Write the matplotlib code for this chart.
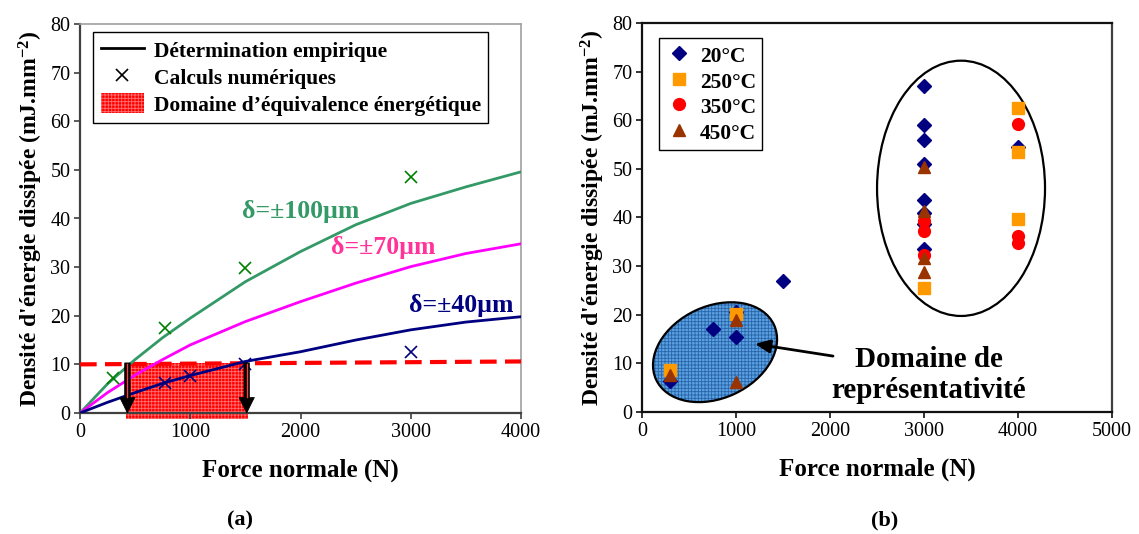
import matplotlib
matplotlib.use('Agg')
import matplotlib.pyplot as plt
import numpy as np
from matplotlib.patches import Ellipse, Rectangle, Patch
from matplotlib.lines import Line2D
import matplotlib.transforms as mtransforms

plt.rcParams['font.family'] = ['Liberation Serif', 'DejaVu Serif']
plt.rcParams['mathtext.default'] = 'regular'
plt.rcParams['hatch.linewidth'] = 0.6

# ---------------- data (a) ----------------
force_emp = [0, 250, 500, 750, 1000, 1500, 2000, 2500, 3000, 3500, 4000]
emp_100 = [0, 6.0, 11.0, 15.5, 19.5, 27.0, 33.2, 38.7, 43.1, 46.5, 49.6]
emp_70 = [0, 4.2, 7.8, 11.0, 14.0, 18.8, 22.9, 26.7, 30.1, 32.8, 34.8]
emp_40 = [0, 2.2, 4.2, 6.1, 7.7, 10.6, 12.6, 15.0, 17.1, 18.7, 19.8]
num_force_100 = [300, 770, 1500, 3000]
num_100 = [7.1, 17.4, 29.9, 48.5]
num_force_40 = [770, 1000, 1500, 3000]
num_40 = [6.1, 7.6, 10.0, 12.5]
seuil_force = [0, 4000]
seuil = [10.0, 10.6]
domaine_force = [420, 1520]
domaine_energie = 10.3
fleche_force = [430, 1512]

# ---------------- data (b) ----------------
f20 = [300, 750, 1000, 1000, 1500, 3000, 3000, 3000, 3000, 3000, 3000, 3000, 3000, 4000]
e20 = [6.3, 17.1, 15.4, 20.6, 27.0, 67.1, 59.0, 55.9, 51.1, 43.6, 40.9, 38.7, 33.5, 54.6]
f250 = [300, 1000, 3000, 4000, 4000, 4000]
e250 = [8.6, 20.2, 25.6, 62.6, 53.4, 39.7]
f350 = [3000, 3000, 3000, 4000, 4000, 4000]
e350 = [39.3, 37.3, 32.3, 59.2, 36.2, 34.7]
f450 = [300, 1000, 1000, 3000, 3000, 3000, 3000]
e450 = [7.6, 18.9, 6.1, 50.4, 41.3, 31.6, 28.7]

W, H = 1139, 534
fig = plt.figure(figsize=(W / 100, H / 100), dpi=100)
ax1 = fig.add_axes([80 / W, 1 - 413 / H, 441 / W, 389 / H])
ax2 = fig.add_axes([642 / W, 1 - 412 / H, 470 / W, 389 / H])

tick_fs = 14.5
lab_fs = 18
ylab_fs = 17
leg_fs = 15.5
ylabel_txt = "Densité d'énergie dissipée (mJ.mm$^{-2}$)"

# ---------------- panel (a) ----------------
ax1.set_xlim(0, 4000)
ax1.set_ylim(0, 80)
ax1.set_xticks(range(0, 4001, 1000))
ax1.set_yticks(range(0, 81, 10))

rect = Rectangle((domaine_force[0], -1.2), domaine_force[1] - domaine_force[0], domaine_energie + 1.2,
                 facecolor='#ff0000', edgecolor='#ff7070', hatch='+++++', lw=0, clip_on=False, zorder=1)
ax1.add_patch(rect)

ax1.plot(seuil_force, seuil, color='#ff0000', lw=3, dashes=(4, 2), zorder=3, clip_on=False)

ax1.plot(force_emp, emp_100, color='#339966', lw=2, zorder=4)
ax1.plot(force_emp, emp_70, color='#ff00ff', lw=2, zorder=4)
ax1.plot(force_emp, emp_40, color='#000080', lw=2, zorder=4)
ax1.plot(num_force_100, num_100, ls='none', marker='x', ms=9, mew=1.2, color='#008000', zorder=5)
ax1.plot(num_force_40, num_40, ls='none', marker='x', ms=9, mew=1.2, color='#000080', zorder=5)

for fx in fleche_force:
    ax1.arrow(fx, domaine_energie, 0, -domaine_energie, width=50, head_width=140, head_length=3.2,
              length_includes_head=True, fc='black', ec='black', lw=0.5, zorder=6, clip_on=False)
    ax1.plot([fx, fx], [domaine_energie - 0.2, 3.3], color='#ff4040', lw=1.0, zorder=7)

ax1.text(2000, 41.4, 'δ=±100µm', color='#339966', fontsize=18.5, fontweight='bold', ha='center', va='center')
ax1.text(2750, 34.0, 'δ=±70µm', color='#ff3399', fontsize=18.5, fontweight='bold', ha='center', va='center')
ax1.text(3460, 22.2, 'δ=±40µm', color='#000080', fontsize=18.5, fontweight='bold', ha='center', va='center')

handles = [Line2D([], [], color='black', lw=2),
           Line2D([], [], ls='none', marker='x', ms=9, mew=1.2, color='black'),
           Patch(facecolor='#ff0000', edgecolor='#ff7070', hatch='+++++', lw=0)]
leg = ax1.legend(handles, ['Détermination empirique', 'Calculs numériques', "Domaine d’équivalence énergétique"],
                 loc='upper left', bbox_to_anchor=(0.03, 0.98), prop={'weight': 'bold', 'size': leg_fs},
                 frameon=True, fancybox=False, edgecolor='black', framealpha=1, borderpad=0.35,
                 handlelength=2.0, handleheight=1.05, handletextpad=0.45, labelspacing=0.22,
                 borderaxespad=0)
leg.get_frame().set_linewidth(1.0)

for s in ['left', 'bottom']:
    ax1.spines[s].set_color('#404040')
    ax1.spines[s].set_linewidth(1.6)
for s in ['top', 'right']:
    ax1.spines[s].set_color('#a0a0a0')
    ax1.spines[s].set_linewidth(1.2)
ax1.tick_params(direction='out', length=4, width=1.2, color='#404040', labelsize=tick_fs, pad=3)
ax1.set_xlabel('Force normale (N)', fontsize=lab_fs, fontweight='bold', labelpad=12)
ax1.set_ylabel(ylabel_txt, fontsize=ylab_fs, fontweight='bold', labelpad=4)

# ---------------- panel (b) ----------------
ax2.set_xlim(0, 5000)
ax2.set_ylim(0, 80)
ax2.set_xticks(range(0, 5001, 1000))
ax2.set_yticks(range(0, 81, 10))

big = Ellipse((3394, 46), 1787, 52.5, facecolor='none', edgecolor='black', lw=1.6, zorder=2)
ax2.add_patch(big)

trans = fig.dpi_scale_trans + mtransforms.ScaledTranslation(777, 12.3, ax2.transData)
small_fill = Ellipse((0, 0), 1.30, 0.92, angle=25, transform=trans, facecolor='#5aa2e2',
                     edgecolor='#2a64a8', hatch='+++++', lw=0, zorder=1)
small_edge = Ellipse((0, 0), 1.30, 0.92, angle=25, transform=trans, facecolor='none',
                     edgecolor='black', lw=1.6, zorder=2)
ax2.add_patch(small_fill)
ax2.add_patch(small_edge)

ax2.plot(f20, e20, ls='none', marker='D', ms=7.5, color='#000080', label='20°C', zorder=3)
ax2.plot(f250, e250, ls='none', marker='s', ms=8.5, color='#ff9900', label='250°C', zorder=4)
ax2.plot(f350, e350, ls='none', marker='o', ms=8.5, color='#ff0000', label='350°C', zorder=5)
ax2.plot(f450, e450, ls='none', marker='^', ms=9, color='#993300', label='450°C', zorder=6)

ax2.annotate('', xy=(1202, 14.0), xytext=(2032, 11.5),
             arrowprops=dict(arrowstyle='-|>,head_length=0.9,head_width=0.4', color='black', lw=2,
                             shrinkA=0, shrinkB=0), zorder=7)
ax2.text(3050, 7.6, 'Domaine de\nreprésentativité', fontsize=21, fontweight='bold',
         ha='center', va='center', linespacing=1.15, zorder=7)

leg2 = ax2.legend(loc='upper left', bbox_to_anchor=(0.036, 0.961), prop={'weight': 'bold', 'size': leg_fs},
                  frameon=True, fancybox=False, edgecolor='black', framealpha=1, borderpad=0.3,
                  handlelength=1.3, handleheight=1.05, handletextpad=0.3, labelspacing=0.15,
                  borderaxespad=0)
leg2.get_frame().set_linewidth(1.0)

for s in ['left', 'bottom', 'top']:
    ax2.spines[s].set_color('#111111')
    ax2.spines[s].set_linewidth(1.6)
ax2.spines['right'].set_color('#404040')
ax2.spines['right'].set_linewidth(1.6)
ax2.tick_params(direction='out', length=4, width=1.2, color='#111111', labelsize=tick_fs, pad=3)
ax2.set_xlabel('Force normale (N)', fontsize=lab_fs, fontweight='bold', labelpad=12)
ax2.set_ylabel(ylabel_txt, fontsize=ylab_fs, fontweight='bold', labelpad=4)

fig.text(240 / W, 1 - 520 / H, '(a)', fontsize=16, fontweight='bold', ha='center', va='center')
fig.text(885 / W, 1 - 520 / H, '(b)', fontsize=16, fontweight='bold', ha='center', va='center')

fig.savefig('out.png', dpi=100)
